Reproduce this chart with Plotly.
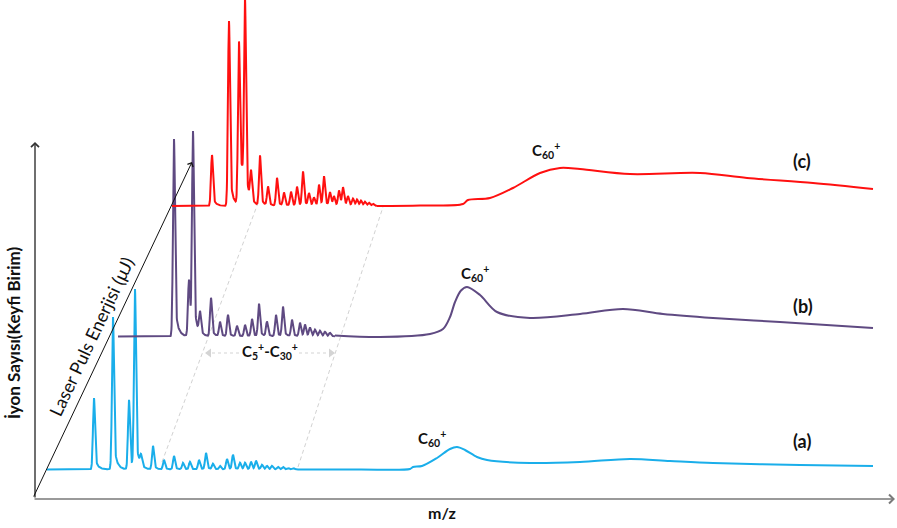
import numpy as np
import plotly.graph_objects as go

# ---------------------------------------------------------------------------
# Spectra data (m/z and intensity in arbitrary units)
# ---------------------------------------------------------------------------
# (a) lowest laser pulse energy
a_base = 58.5
a_start = 47
a_peak_mz = [94, 113, 129, 135, 141, 153, 164, 174, 183, 190, 199, 206, 213, 220,
             227, 233, 240, 245, 251, 256, 262, 267, 272, 278, 283, 288, 293]
a_peak_int = [71.5, 152.5, 69.5, 178.5, 10.5, 23.5, 9.5, 13.5, 6.5, 7.5, 9.5, 16.5,
              5.5, 3.5, 10.5, 14.5, 6.5, 6.5, 7.5, 8.5, 4.5, 3.5, 3.5, 2.5, 2.5, 1.5, 1.5]
a_broad_mz = [298, 360, 410, 413, 422, 437, 450, 457, 465, 477, 487, 530, 580, 630,
              670, 713, 800, 873]
a_broad_int = [0, 0, 0.5, 2.5, 3.5, 11.5, 20.5, 22.5, 19.5, 12.5, 9.5, 6.5, 7.5,
               10.5, 8.5, 6.5, 4.5, 3.5]

# (b) medium laser pulse energy
b_base = 191.5
b_start = 118
b_peak_mz = [174, 189, 193, 200, 211, 220, 228, 237, 245, 252, 259, 267, 276, 283,
             292, 300, 305, 310, 315, 320, 325, 330]
b_peak_int = [197.5, 56.5, 202.5, 21.5, 38.5, 14.5, 21.5, 10.5, 11.5, 17.5, 32.5,
              14.5, 21.5, 29.5, 16.5, 13.5, 11.5, 8.5, 6.5, 5.5, 4.5, 3.5]
b_broad_mz = [335, 380, 430, 443, 450, 455, 461, 467, 480, 497, 530, 580, 623, 663,
              713, 780, 873]
b_broad_int = [1.0, -0.5, 2.5, 7.5, 19.5, 34.5, 46.0, 49.5, 41.5, 24.5, 18.5, 22.5,
               27.5, 22.5, 18.5, 14.5, 8.5]

# (c) highest laser pulse energy
c_base = 322.0
c_start = 172
c_peak_mz = [212, 229, 239, 242, 245, 251, 260, 268, 277, 284, 291, 297, 303, 309,
             314, 319, 324, 330, 334, 339, 343, 348, 353, 357, 361, 365, 369, 373]
c_peak_int = [51, 185, 163, 25, 202, 30, 50, 19, 28, 13, 14, 19, 34, 12, 8, 21, 29,
              13, 9, 15, 18, 9, 7, 6, 5, 4, 3, 2]
c_broad_mz = [377, 420, 463, 468, 490, 513, 540, 560, 580, 630, 700, 747, 813, 873]
c_broad_int = [0, 0.5, 2, 6, 8, 18, 33, 38, 37, 32, 33, 28, 23, 17]

COLORS = {"a": "#1aaeea", "b": "#5f4a82", "c": "#ff1010"}
H = 528  # figure height, used to place layout items from top-down pixel readings


def peak_profile(mz, centers, heights, sigma=1.0, tail=0.2, tau=3.0):
    """Sum of sharp, slightly tailing peaks evaluated on the m/z grid."""
    out = np.zeros_like(mz)
    for c, h in zip(centers, heights):
        d = mz - c
        g = np.exp(-0.5 * (d / sigma) ** 2)
        right = (1 - tail) * g + tail * np.exp(-np.clip(d, 0, None) / tau)
        out += h * np.where(d < 0, g, right)
    return out


fig = go.Figure()

spectra = [
    ("a", a_base, a_start, a_peak_mz, a_peak_int, a_broad_mz, a_broad_int),
    ("b", b_base, b_start, b_peak_mz, b_peak_int, b_broad_mz, b_broad_int),
    ("c", c_base, c_start, c_peak_mz, c_peak_int, c_broad_mz, c_broad_int),
]
for key, base, start, pmz, pint, bmz, bint in spectra:
    grid = np.arange(start, bmz[0] + 0.01, 0.2)
    y = base + peak_profile(grid, pmz, pint)
    fig.add_trace(go.Scatter(x=grid, y=y, mode="lines",
                             line=dict(color=COLORS[key], width=2),
                             hoverinfo="skip", showlegend=False))
    fig.add_trace(go.Scatter(x=bmz, y=[base + v for v in bint], mode="lines",
                             line=dict(color=COLORS[key], width=2, shape="spline",
                                       smoothing=0.9),
                             hoverinfo="skip", showlegend=False))


def Y(py):
    return H - py


# dashed guides bounding the C5+-C30+ cluster region
GUIDE = dict(color="#d2d2d2", width=1, dash="4px,3px")
shapes = [
    dict(type="line", x0=162, y0=Y(462), x1=258, y1=Y(203), line=GUIDE, layer="below"),
    dict(type="line", x0=298, y0=Y(467), x1=383, y1=Y(207), line=GUIDE, layer="below"),
    dict(type="line", x0=212, y0=Y(353), x1=243, y1=Y(353),
         line=dict(color="#d4d4d4", width=1.2, dash="dot")),
    dict(type="line", x0=299, y0=Y(353), x1=328, y1=Y(353),
         line=dict(color="#d4d4d4", width=1.2, dash="dot")),
]
fig.add_trace(go.Scatter(x=[209, 331], y=[Y(353), Y(353)], mode="markers",
                         marker=dict(symbol=["triangle-left", "triangle-right"],
                                     size=8, color="#d4d4d4"),
                         hoverinfo="skip", showlegend=False))

FONT = "Lato, 'Open Sans', sans-serif"
ann = []
# axes drawn as arrows
ann.append(dict(x=895, y=Y(499), ax=33, ay=Y(499), xref="x", yref="y", axref="x",
                ayref="y", showarrow=True, arrowhead=4, arrowsize=1.1, arrowwidth=1.6,
                arrowcolor="#7a7a7a", standoff=0, text=""))
ann.append(dict(x=35, y=Y(142), ax=35, ay=Y(499), xref="x", yref="y", axref="x",
                ayref="y", showarrow=True, arrowhead=4, arrowsize=1.1, arrowwidth=1.4,
                arrowcolor="#333333", standoff=0, text=""))
# laser pulse energy arrow
ann.append(dict(x=192, y=Y(162), ax=33, ay=Y(498), xref="x", yref="y", axref="x",
                ayref="y", showarrow=True, arrowhead=4, arrowsize=1.2, arrowwidth=1,
                arrowcolor="#111111", standoff=0, text=""))

ann.append(dict(x=91, y=Y(337), text="Laser Puls Enerjisi (μJ)", showarrow=False,
                textangle=-64.7, font=dict(family=FONT, size=18, color="#111111")))
ann.append(dict(x=13, y=Y(333), text="<b>İyon Sayısı(Keyfi Birim)</b>", showarrow=False,
                textangle=-90, font=dict(family=FONT, size=17, color="#111111")))
ann.append(dict(x=442, y=Y(512), text="<b>m/z</b>", showarrow=False,
                font=dict(family=FONT, size=16, color="#111111")))
for lbl, px, py in [("(a)", 802, 441), ("(b)", 803, 306), ("(c)", 802, 161)]:
    ann.append(dict(x=px, y=Y(py), text=f"<b>{lbl}</b>", showarrow=False,
                    font=dict(family=FONT, size=18, color="#111111")))
for px, py in [(432, 438), (475, 273), (546, 150)]:
    ann.append(dict(x=px, y=Y(py), text="<b>C<sub>60</sub><sup>+</sup></b>",
                    showarrow=False, font=dict(family=FONT, size=15, color="#111111")))
ann.append(dict(x=270, y=Y(351), text="<b>C<sub>5</sub><sup>+</sup>-C<sub>30</sub><sup>+</sup></b>",
                showarrow=False, font=dict(family=FONT, size=15, color="#111111")))

fig.update_layout(
    width=897, height=528,
    margin=dict(l=0, r=0, t=0, b=0),
    paper_bgcolor="white", plot_bgcolor="white",
    xaxis=dict(range=[0, 897], visible=False, fixedrange=True),
    yaxis=dict(range=[0, H], visible=False, fixedrange=True),
    shapes=shapes, annotations=ann, showlegend=False,
)

fig.write_html("out.html")
